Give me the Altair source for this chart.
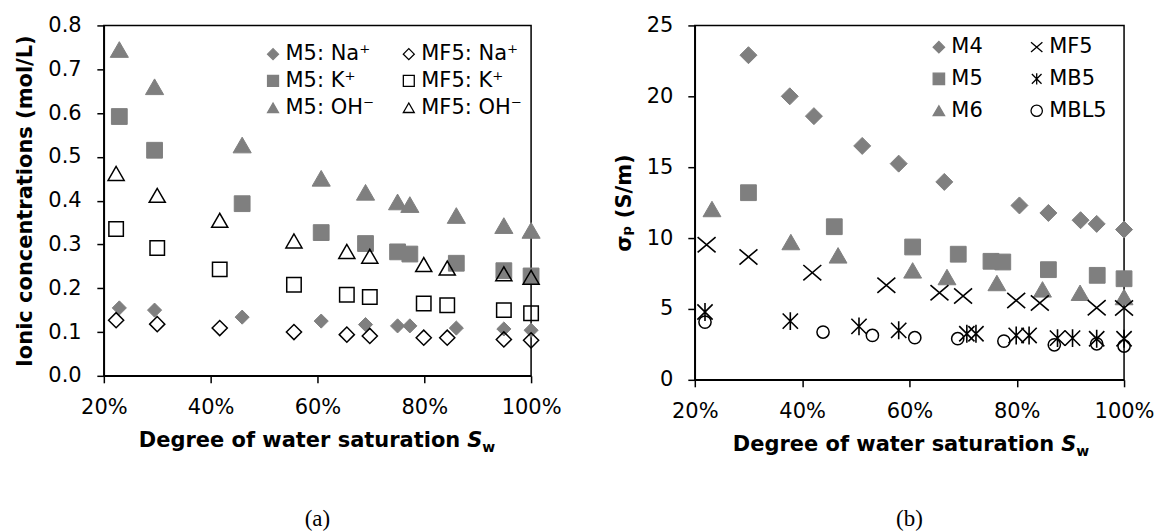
import altair as alt
import pandas as pd

# ---------------- panel (a): ionic concentrations ----------------
m5_sw = [0.229, 0.295, 0.459, 0.607, 0.690, 0.750, 0.773, 0.860, 0.949, 1.000]
m5_na = [0.155, 0.150, 0.134, 0.125, 0.117, 0.114, 0.114, 0.109, 0.107, 0.104]
m5_k = [0.592, 0.515, 0.393, 0.327, 0.302, 0.283, 0.278, 0.257, 0.240, 0.228]
m5_oh = [0.745, 0.660, 0.527, 0.451, 0.419, 0.397, 0.391, 0.366, 0.343, 0.332]

mf5_sw = [0.223, 0.300, 0.417, 0.556, 0.655, 0.698, 0.799, 0.843, 0.949, 1.000]
mf5_na = [0.127, 0.118, 0.109, 0.100, 0.094, 0.091, 0.087, 0.087, 0.083, 0.081]
mf5_k = [0.335, 0.292, 0.243, 0.208, 0.185, 0.180, 0.165, 0.161, 0.150, 0.143]
mf5_oh = [0.462, 0.412, 0.355, 0.308, 0.284, 0.273, 0.254, 0.246, 0.233, 0.225]

# ---------------- panel (b): pore fluid conductivity ----------------
m4_sw = [0.300, 0.377, 0.422, 0.512, 0.580, 0.665, 0.805, 0.859, 0.919, 0.949, 1.000]
m4_sp = [22.9, 20.0, 18.6, 16.5, 15.25, 13.96, 12.3, 11.77, 11.26, 11.0, 10.6]
m5b_sw = [0.300, 0.460, 0.606, 0.691, 0.752, 0.774, 0.859, 0.950, 1.000]
m5b_sp = [13.2, 10.8, 9.37, 8.86, 8.36, 8.31, 7.77, 7.37, 7.13]
m6_sw = [0.232, 0.379, 0.467, 0.606, 0.670, 0.763, 0.848, 0.918, 1.000]
m6_sp = [12.05, 9.72, 8.78, 7.72, 7.25, 6.83, 6.38, 6.14, 5.84]
mf5b_sw = [0.222, 0.300, 0.419, 0.557, 0.656, 0.700, 0.799, 0.843, 0.949, 1.000]
mf5b_sp = [9.53, 8.67, 7.56, 6.67, 6.14, 5.91, 5.60, 5.42, 5.09, 5.06]
mb5_sw = [0.219, 0.378, 0.506, 0.580, 0.707, 0.724, 0.799, 0.823, 0.876, 0.904, 0.949, 1.000]
mb5_sp = [4.78, 4.14, 3.77, 3.49, 3.25, 3.25, 3.13, 3.13, 2.94, 2.94, 2.90, 2.90]
mbl5_sw = [0.219, 0.439, 0.531, 0.610, 0.690, 0.776, 0.870, 0.949, 1.000]
mbl5_sp = [4.07, 3.37, 3.13, 2.97, 2.90, 2.73, 2.47, 2.54, 2.38]

x_ticks = [0.2, 0.4, 0.6, 0.8, 1.0]
ya_ticks = [0.0, 0.1, 0.2, 0.3, 0.4, 0.5, 0.6, 0.7, 0.8]
yb_ticks = [0, 5, 10, 15, 20, 25]

GRAY = "#7f7f7f"
FONT = "DejaVu Sans"
X_PATH = "M-1,-0.85L1,0.85M-1,0.85L1,-0.85"
AST_PATH = "M-0.85,-0.85L0.85,0.85M-0.85,0.85L0.85,-0.85M0,-1L0,1"

# series (legend order is column-major): name, sw, values, shape, fill, stroke, size, strokeWidth
series_a = [
    ("M5: Na⁺", m5_sw, m5_na, "diamond", GRAY, GRAY, 200, 1),
    ("M5: K⁺", m5_sw, m5_k, "square", GRAY, GRAY, 250, 1),
    ("M5: OH⁻", m5_sw, m5_oh, "triangle-up", GRAY, GRAY, 330, 1),
    ("MF5: Na⁺", mf5_sw, mf5_na, "diamond", "transparent", "black", 230, 1.5),
    ("MF5: K⁺", mf5_sw, mf5_k, "square", "transparent", "black", 210, 1.5),
    ("MF5: OH⁻", mf5_sw, mf5_oh, "triangle-up", "transparent", "black", 260, 1.5),
]
series_b = [
    ("M4", m4_sw, m4_sp, "diamond", GRAY, GRAY, 290, 1),
    ("M5", m5b_sw, m5b_sp, "square", GRAY, GRAY, 250, 1),
    ("M6", m6_sw, m6_sp, "triangle-up", GRAY, GRAY, 320, 1),
    ("MF5", mf5b_sw, mf5b_sp, X_PATH, "transparent", "black", 324, 1.6),
    ("MB5", mb5_sw, mb5_sp, AST_PATH, "transparent", "black", 324, 1.6),
    ("MBL5", mbl5_sw, mbl5_sp, "circle", "transparent", "black", 150, 1.5),
]


def text(txt, x, y, size=21, weight="bold", style="normal", align="left",
         font=FONT, baseline="alphabetic"):
    return alt.Chart(pd.DataFrame({"t": [txt]})).mark_text(
        text=txt, font=font, fontSize=size, fontWeight=weight, fontStyle=style,
        align=align, baseline=baseline, color="black"
    ).encode(x=alt.value(x), y=alt.value(y))


def panel(series, field, ydom, yticks, yfmt, ytitle, W, H, legend, title_end, caption,
          ytitle_pad, ylabel_pad, cap_y):
    names = [s[0] for s in series]
    shapes = [s[3] for s in series]
    fills = [s[4] for s in series]
    strokes = [s[5] for s in series]
    xenc = alt.X("x:Q", scale=alt.Scale(domain=[0.2, 1.0], nice=False, zero=False),
                 axis=alt.Axis(values=x_ticks, format=".0%", title=None,
                               labelFlush=False, labelPadding=14))
    yenc = alt.Y("y:Q", scale=alt.Scale(domain=ydom, nice=False),
                 axis=alt.Axis(values=yticks, format=yfmt, title=ytitle, labelFlush=False,
                               titlePadding=ytitle_pad, labelPadding=ylabel_pad))
    layers = []
    for name, xs, ys, shp, fl, st, sz, sw in series:
        df = pd.DataFrame({"x": xs, "y": ys, field: [name] * len(xs)})
        layers.append(
            alt.Chart(df).mark_point(filled=True, opacity=1, size=sz, strokeWidth=sw).encode(
                x=xenc, y=yenc,
                shape=alt.Shape(f"{field}:N", scale=alt.Scale(domain=names, range=shapes), legend=legend),
                fill=alt.Fill(f"{field}:N", scale=alt.Scale(domain=names, range=fills), legend=legend),
                stroke=alt.Stroke(f"{field}:N", scale=alt.Scale(domain=names, range=strokes), legend=legend),
            )
        )
    ty = H + 71
    layers.append(text("Degree of water saturation", title_end, ty, align="right"))
    layers.append(text("S", title_end + 7, ty, style="italic"))
    layers.append(text("w", title_end + 22, ty + 5, size=14))
    layers.append(text(caption, W / 2, cap_y, size=23, weight="normal",
                       align="center", font="Liberation Serif", baseline="middle"))
    return alt.layer(*layers).properties(width=W, height=H)


leg_a = alt.Legend(orient="none", legendX=159, legendY=18, columns=2, title=None,
                   symbolSize=120, labelFontSize=21, labelFont=FONT, labelColor="black",
                   rowPadding=5, columnPadding=24, labelOffset=2, symbolStrokeWidth=1.3,
                   padding=0)
leg_b = alt.Legend(orient="none", legendX=234, legendY=11, columns=2, title=None,
                   symbolSize=130, labelFontSize=21, labelFont=FONT, labelColor="black",
                   rowPadding=10, columnPadding=43, labelOffset=2, symbolStrokeWidth=1.3,
                   padding=0)

W1, H1 = 428, 351
W2, H2 = 430, 355

left = panel(series_a, "sa", [0, 0.8], ya_ticks, ".1f", "Ionic concentrations (mol/L)",
             W1, H1, leg_a, W1 / 2 + 143, "(a)", 12.6, 15.7, 494)
right = panel(series_b, "sb", [0, 25], yb_ticks, "d", "σₚ (S/m)",
              W2, H2, leg_b, W2 / 2 + 145, "(b)", 11.3, 15, 494)

chart = alt.hconcat(left, right, spacing=51).resolve_scale(
    shape="independent", fill="independent", stroke="independent"
).resolve_legend(shape="independent", fill="independent", stroke="independent").properties(
    padding={"left": 5, "top": 5, "right": 0, "bottom": 0}
).configure_axis(
    domainColor="black", domainWidth=1.5, tickColor="black", tickWidth=1.5, tickSize=7,
    labelColor="black", labelFont=FONT, labelFontSize=21, grid=False,
    titleFont=FONT, titleFontSize=21, titleFontWeight="bold", titleColor="black",
).configure_view(stroke="black", strokeWidth=1.5)

chart.save("out.html", embed_options={"renderer": "svg", "actions": False})
